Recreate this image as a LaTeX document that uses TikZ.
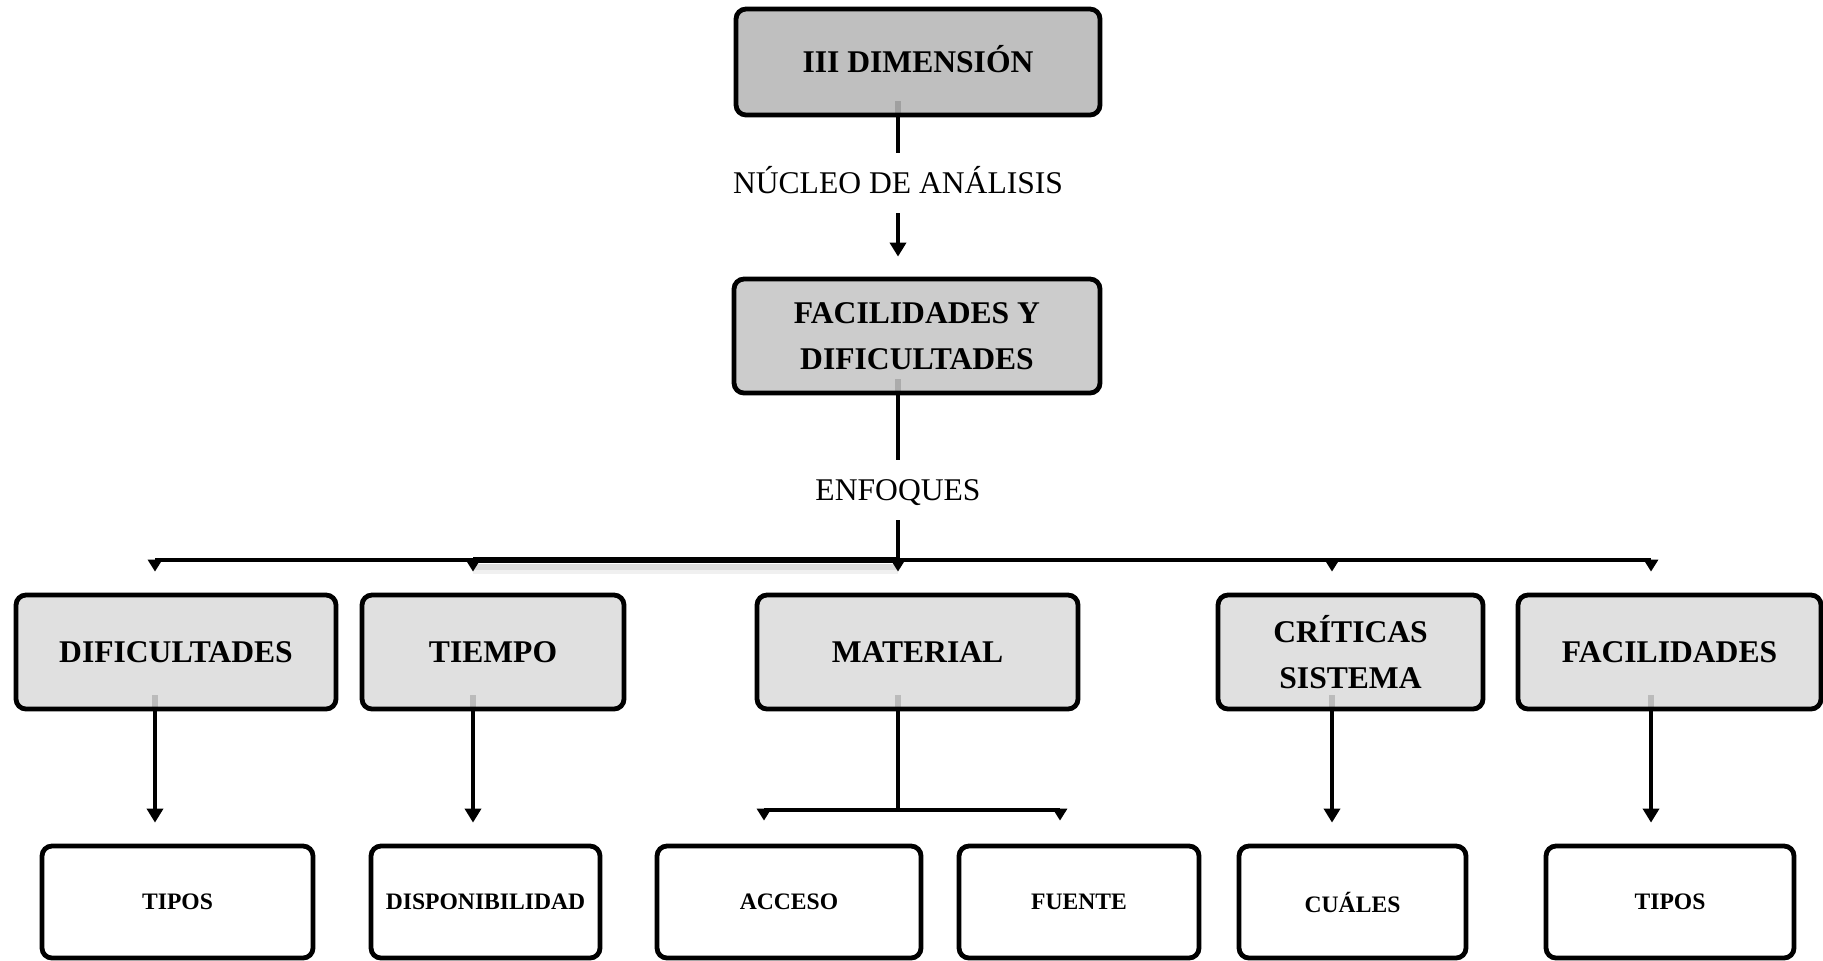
\documentclass[tikz,border=0pt]{standalone}
\usepackage{fontspec}
\setmainfont{Liberation Serif}
\usetikzlibrary{arrows.meta,calc}
\begin{document}
\begin{tikzpicture}[x=0.5pt,y=-0.5pt,
  box/.style={draw=black, line width=2.4pt, rounded corners=5pt, align=center,
    font=\bfseries\fontsize{15.8}{23}\selectfont, inner sep=0pt},
  topbox/.style={box, fill=black!25},
  midbox/.style={box, fill=black!20},
  catbox/.style={box, fill=black!12, minimum height=57pt},
  leafbox/.style={box, fill=white, minimum height=56pt,
    font=\bfseries\fontsize{11.8}{14}\selectfont},
  lbl/.style={font=\fontsize{15.8}{19}\selectfont, inner sep=0pt,
    text height=10pt, text depth=0pt, minimum height=30pt},
  conn/.style={line width=2.4pt, -{Triangle[length=7pt,width=8pt]}},
  trunk/.style={line width=2.4pt},
  tick/.style={line width=2.2pt, -{Triangle[length=6pt,width=7pt]}},
  pale/.style={line width=2.6pt, draw=black, draw opacity=0.16},
]
\useasboundingbox (0,0) rectangle (1823,960);

% connector columns and junctions
\coordinate (k1) at (155,0);
\coordinate (k2) at (473,0);
\coordinate (k3) at (898,0);
\coordinate (k4) at (1332,0);
\coordinate (k5) at (1651,0);
\coordinate (ka) at (764,0);
\coordinate (kb) at (1060,0);
\coordinate (hub) at (898,560);
\coordinate (mj) at (898,810);

% top levels
\node[topbox, minimum width=182pt, minimum height=53pt, text height=10.7pt, text depth=0pt] (dim) at (918,62) {III DIMENSIÓN};
\node[lbl] (nuc) at (898,183) {NÚCLEO DE ANÁLISIS};
\node[midbox, minimum width=183pt, minimum height=57pt] (fac) at (917,336) {FACILIDADES Y\\DIFICULTADES};
\node[lbl] (enf) at (898,490) {ENFOQUES};

% categories
\node[catbox, minimum width=160pt]   (dif) at (176,652)    {DIFICULTADES};
\node[catbox, minimum width=131pt]   (tie) at (493,652)    {TIEMPO};
\node[catbox, minimum width=160.5pt] (mat) at (917.5,652)  {MATERIAL};
\node[catbox, minimum width=132.5pt] (cri) at (1350.5,652) {CRÍTICAS\\SISTEMA};
\node[catbox, minimum width=151.5pt] (fcl) at (1669.5,652) {FACILIDADES};

% leaves
\node[leafbox, minimum width=135.5pt] (t1)  at (177.5,902) {TIPOS};
\node[leafbox, minimum width=114.5pt] (dis) at (485.5,902) {DISPONIBILIDAD};
\node[leafbox, minimum width=132pt]   (acc) at (789,902)   {ACCESO};
\node[leafbox, minimum width=120pt]   (fue) at (1079,902)  {FUENTE};
\node[leafbox, minimum width=113.5pt] (cua) at (1352.5,902){CUÁLES};
\node[leafbox, minimum width=124pt]   (t2)  at (1670,902)  {TIPOS};

% central trunk
\draw[trunk] (k3 |- dim.south) -- (nuc.north);
\draw[conn, shorten >=10pt] (nuc.south) -- (k3 |- fac.north);
\draw[trunk] (k3 |- fac.south) -- (enf.north);
\draw[trunk] (enf.south) -- (hub);

% distribution bar, heavier between TIEMPO and the trunk, with a soft shadow
\draw[line width=3pt, black!6]  ($(k2 |- hub)+(0,11)$) -- ($(hub)+(0,11)$);
\draw[line width=3pt, black!14] ($(k2 |- hub)+(0,7)$) -- ($(hub)+(0,7)$);
\draw[line width=2.4pt] (k1 |- hub) -- (k5 |- hub);
\draw[line width=3.4pt] (k2 |- hub) -- (hub);
\foreach \cx/\bx in {k1/dif,k2/tie,k3/mat,k4/cri,k5/fcl}
  \draw[tick, shorten >=10.5pt] (\cx |- hub) -- (\cx |- \bx.north);

% category to leaf
\foreach \cx/\bx/\lx in {k1/dif/t1,k2/tie/dis,k4/cri/cua,k5/fcl/t2}
  \draw[conn, shorten >=10.5pt] (\cx |- \bx.south) -- (\cx |- \lx.north);
\draw[trunk] (k3 |- mat.south) -- (mj);
\draw[line width=2.2pt] (ka |- mj) -- (kb |- mj);
\draw[tick, shorten >=11.5pt] (ka |- mj) -- (ka |- acc.north);
\draw[tick, shorten >=11.5pt] (kb |- mj) -- (kb |- fue.north);

% faint connector starts inside the boxes
\foreach \cx/\bx in {k3/dim,k3/fac,k1/dif,k2/tie,k3/mat,k4/cri,k5/fcl}
  \draw[pale] (\cx |- \bx.south) -- ++(0,-16);
\end{tikzpicture}
\end{document}
